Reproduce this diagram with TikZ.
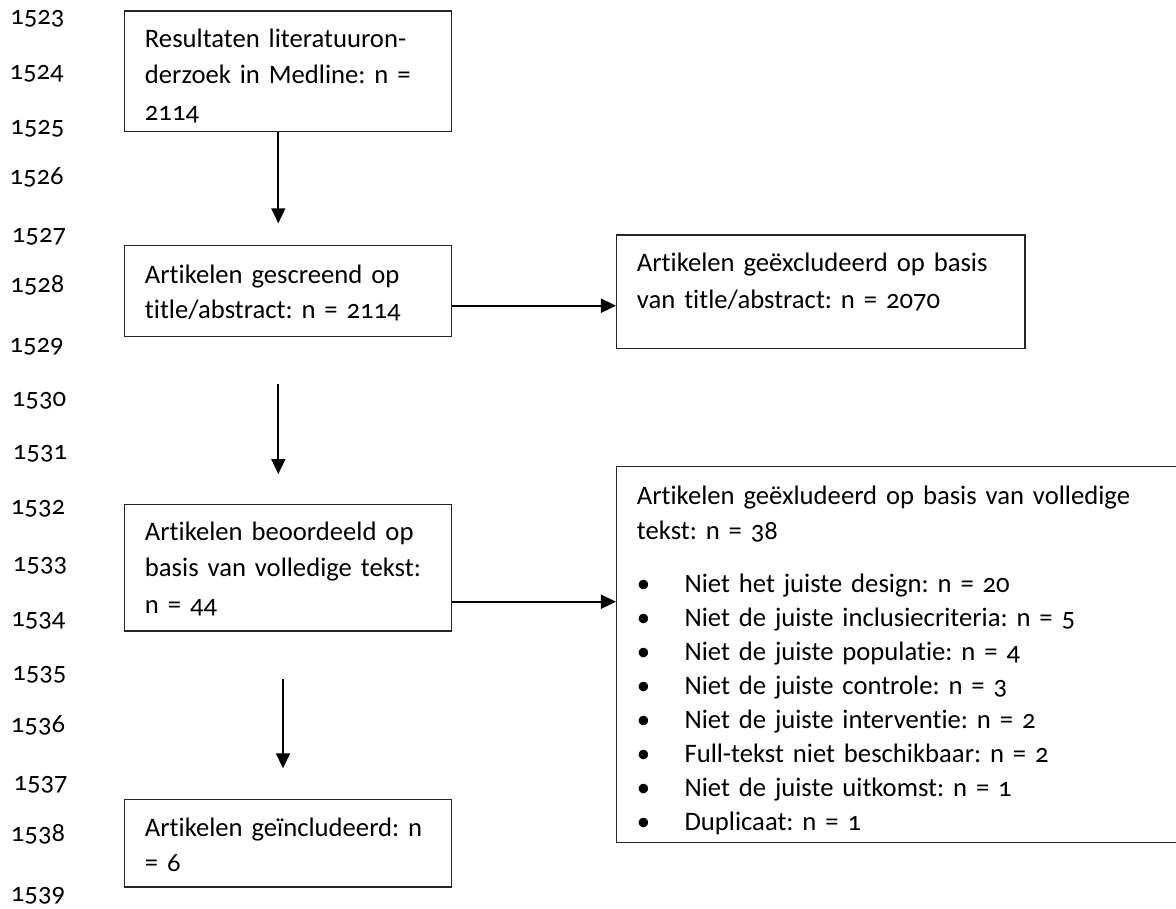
\documentclass[tikz,border=0pt]{standalone}
\usepackage{fontspec}
\setmainfont{Carlito}[Numbers=OldStyle, Ligatures=NoCommon]
\usetikzlibrary{arrows.meta}
\newcommand\bitem[1]{\mbox{\makebox[35.7pt][l]{\textbullet}#1}}
\begin{document}
\frenchspacing
\begin{tikzpicture}[x=0.75pt,y=-0.75pt,
  every node/.style={font=\fontsize{20pt}{26.6pt}\selectfont\frenchspacing, inner sep=0pt},
  box/.style={draw=black!85, line width=1.1pt, align=left, inner xsep=15.5pt, inner ysep=0pt, text height=0pt},
  arr/.style={line width=1.3pt, -{Triangle[length=11.25pt,width=10.5pt]}},
  lnum/.style={anchor=mid west, inner sep=0pt}]
\useasboundingbox (0,0) rectangle (1176,908);
\clip (0,0) rectangle (1176,908);
% line numbers
\node[lnum] (n23) at (10,21) {1523};
\node[lnum] (n24) at (9.3,76) {1524};
\node[lnum] (n25) at (10,131) {1525};
\node[lnum] (n26) at (9.3,181) {1526};
\node[lnum] (n27) at (11.7,239) {1527};
\node[lnum] (n28) at (10,289) {1528};
\node[lnum] (n29) at (9.3,349) {1529};
\node[lnum] (n30) at (11.7,403) {1530};
\node[lnum] (n31) at (12.7,456) {1531};
\node[lnum] (n32) at (10.7,511) {1532};
\node[lnum] (n33) at (12.7,568) {1533};
\node[lnum] (n34) at (11,623) {1534};
\node[lnum] (n35) at (12,677) {1535};
\node[lnum] (n36) at (10.7,729) {1536};
\node[lnum] (n37) at (13.3,787) {1537};
\node[lnum] (n38) at (10.7,838) {1538};
\node[lnum] (n39) at (10.7,898) {1539};
% boxes
\node[box, minimum width=245.55pt, minimum height=90.5pt, text width=214.55pt, text depth=36.5pt] (b1) at (288,71.35)
  {\baselineskip=27.4pt\mbox{Resultaten literatuuron-}\\\mbox{derzoek in Medline: n =}\\\mbox{2114}\par};
\node[box, minimum width=245.55pt, minimum height=67.95pt, text width=214.55pt, text depth=12pt] (b2) at (288,291)
  {\baselineskip=26.25pt\mbox{Artikelen gescreend op}\\\mbox{title/abstract: n = 2114}\par};
\node[box, minimum width=306.2pt, minimum height=85.3pt, inner xsep=15.2pt, text width=275.8pt, text depth=30.3pt] (b3) at (820.85,291.85)
  {\baselineskip=27.75pt\mbox{Artikelen geëxcludeerd op basis}\\\mbox{van title/abstract: n = 2070}\par};
\node[box, minimum width=245.55pt, minimum height=95pt, text width=214.55pt, text depth=41pt] (b4) at (288,567.65)
  {\baselineskip=27.4pt\mbox{Artikelen beoordeeld op}\\\mbox{basis van volledige tekst:}\\\mbox{n = 44}\par};
\node[box, minimum width=421pt, minimum height=282pt, inner xsep=15.2pt, text width=390.6pt, text depth=224.6pt] (b5) at (897.35,654.7)
  {{\baselineskip=26.25pt\mbox{Artikelen geëxludeerd op basis van volledige}\\\mbox{tekst: n = 38}\par}
   \vspace{14.25pt}
   {\baselineskip=25.5pt
   \bitem{Niet het juiste design: n = 20}\\
   \bitem{Niet de juiste inclusiecriteria: n = 5}\\
   \bitem{Niet de juiste populatie: n = 4}\\
   \bitem{Niet de juiste controle: n = 3}\\
   \bitem{Niet de juiste interventie: n = 2}\\
   \bitem{Full-tekst niet beschikbaar: n = 2}\\
   \bitem{Niet de juiste uitkomst: n = 1}\\
   \bitem{Duplicaat: n = 1}\par}};
\node[box, minimum width=245.55pt, minimum height=65.5pt, text width=214.55pt, text depth=11pt] (b6) at (288,843.35)
  {\baselineskip=26.25pt\mbox{Artikelen geïncludeerd: n}\\\mbox{= 6}\par};
% arrows
\coordinate (a1e) at (278.3,223.3);
\coordinate (a2s) at (278.3,384);
\coordinate (a2e) at (278.3,474);
\coordinate (a3s) at (283,678.7);
\coordinate (a3e) at (283,768.3);
\coordinate (h1) at (500,305.7);
\coordinate (h2) at (500,601.7);
\draw[arr] (b1.south -| a1e) -- (a1e);
\draw[arr] (a2s) -- (a2e);
\draw[arr] (a3s) -- (a3e);
\draw[arr] (b2.east |- h1) -- (b3.west |- h1);
\draw[arr] (b4.east |- h2) -- (b5.west |- h2);
\end{tikzpicture}
\end{document}
